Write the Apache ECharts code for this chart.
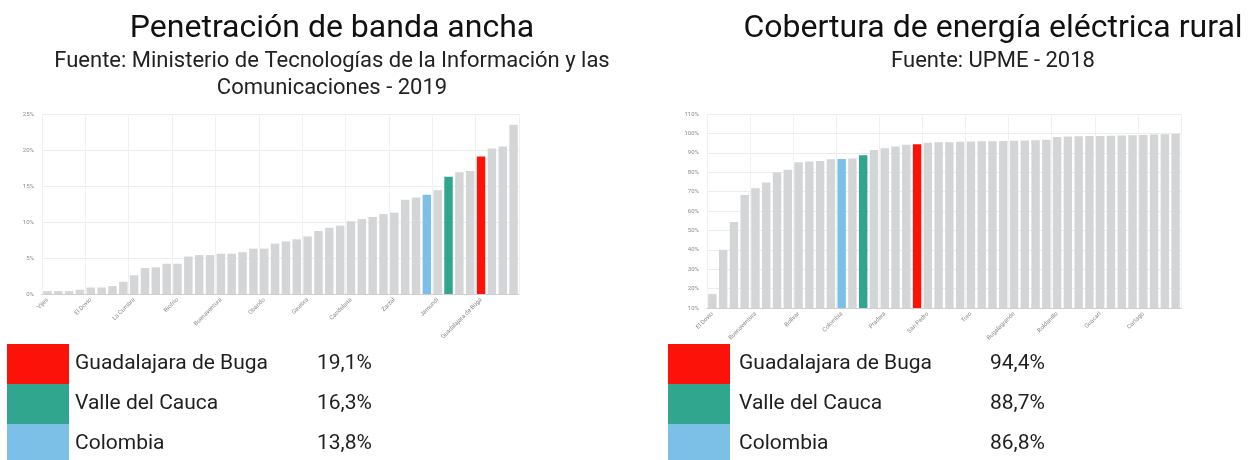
<!DOCTYPE html>
<html>
<head>
<meta charset="utf-8">
<script src="https://cdn.jsdelivr.net/npm/echarts@6/dist/echarts.min.js"></script>
<style>
  html, body { margin: 0; padding: 0; background: #fff; }
  #chart { width: 1257px; height: 460px; }
</style>
</head>
<body>
<div id="chart"></div>
<script>
// --- datos: penetración de banda ancha (MinTIC 2019) ---
const catsBanda = [
  "Vijes", "El Cairo", "Argelia", "Versalles", "El Dovio", "Bolívar", "El Águila", "Ulloa",
  "La Cumbre", "Alcalá", "Trujillo", "Restrepo", "Riofrío", "Calima", "Dagua", "San Pedro",
  "Buenaventura", "Yotoco", "Toro", "Ansermanuevo", "Obando", "La Victoria", "Bugalagrande", "Pradera",
  "Ginebra", "Andalucía", "Guacarí", "El Cerrito", "Candelaria", "Florida", "La Unión", "Roldanillo",
  "Zarzal", "Sevilla", "Caicedonia", "Colombia", "Jamundí", "Valle del Cauca", "Cartago", "Tuluá",
  "Guadalajara de Buga", "Yumbo", "Palmira", "Cali"
];
const valsBanda = [
  0.4, 0.4, 0.4, 0.6, 0.9, 0.9, 1.1, 1.7,
  2.6, 3.6, 3.7, 4.2, 4.2, 5.2, 5.4, 5.4,
  5.6, 5.6, 5.8, 6.3, 6.3, 7.0, 7.3, 7.6,
  8.0, 8.75, 9.2, 9.5, 10.1, 10.4, 10.7, 11.1,
  11.3, 13.1, 13.4, 13.8, 14.4, 16.3, 16.9, 17.1,
  19.1, 20.2, 20.5, 23.5
];

// --- datos: cobertura de energía eléctrica rural (UPME 2018) ---
const catsEnergia = [
  "El Dovio", "El Cairo", "Argelia", "Dagua", "Buenaventura", "Calima", "El Águila", "Versalles",
  "Bolívar", "Riofrío", "Jamundí", "Restrepo", "Colombia", "La Cumbre", "Valle del Cauca", "Vijes",
  "Pradera", "Florida", "Yotoco", "Guadalajara de Buga", "San Pedro", "Ulloa", "Trujillo", "Alcalá",
  "Toro", "Sevilla", "Caicedonia", "El Cerrito", "Bugalagrande", "Ansermanuevo", "Obando", "La Victoria",
  "Roldanillo", "Ginebra", "Andalucía", "La Unión", "Guacarí", "Zarzal", "Candelaria", "Tuluá",
  "Cartago", "Palmira", "Yumbo", "Cali"
];
const valsEnergia = [
  17.2, 40.0, 54.3, 68.3, 71.7, 74.7, 79.8, 81.2,
  85.1, 85.5, 85.8, 86.7, 86.8, 87.0, 88.7, 91.5,
  92.3, 93.2, 94.2, 94.4, 95.2, 95.4, 95.5, 95.7,
  95.8, 95.9, 96.0, 96.1, 96.2, 96.3, 96.5, 96.7,
  98.2, 98.4, 98.5, 98.6, 98.7, 98.8, 98.9, 99.0,
  99.2, 99.4, 99.6, 99.8
];

// entidades resaltadas
const destacados = ["Guadalajara de Buga", "Valle del Cauca", "Colombia"];
const coloresDestacados = ["#fc1208", "#2fa68d", "#7dc0e7"];
const grisBarra = "#d3d5d7";

const chart = echarts.init(document.getElementById("chart"));

function barData(cats, vals) {
  return vals.map(function (v, i) {
    const k = destacados.indexOf(cats[i]);
    return { value: v, itemStyle: { color: k >= 0 ? coloresDestacados[k] : grisBarra } };
  });
}

function valorDe(cats, vals, name) {
  return vals[cats.indexOf(name)].toFixed(1).replace(".", ",") + "%";
}

const axisLbl = { fontSize: 6, color: "#8a8a8a", fontFamily: "Roboto" };

// leyendas (cuadros de color + nombre + valor)
const graphics = [];
[[7, 75, 317, catsBanda, valsBanda], [668, 739, 990, catsEnergia, valsEnergia]].forEach(function (g) {
  destacados.forEach(function (name, k) {
    const y = 344 + k * 40;
    graphics.push({ type: "rect", left: g[0], top: y, shape: { width: 62, height: 40 }, style: { fill: coloresDestacados[k] } });
    graphics.push({ type: "text", left: g[1], top: y + 9, style: { text: name, fontSize: 21, fill: "#1f1f1f", fontFamily: "Roboto" } });
    graphics.push({ type: "text", left: g[2], top: y + 9, style: { text: valorDe(g[3], g[4], name), fontSize: 21, fill: "#1f1f1f", fontFamily: "Roboto" } });
  });
});

const tituloEstilo = { fontSize: 32, fontWeight: "normal", color: "#111", fontFamily: "Roboto" };
const subEstilo = { fontSize: 22, color: "#222", lineHeight: 27, fontFamily: "Roboto" };

chart.setOption({
  animation: false,
  title: [
    {
      text: "Penetración de banda ancha",
      subtext: "Fuente: Ministerio de Tecnologías de la Información y las\nComunicaciones - 2019",
      left: 327, top: 8, textAlign: "center", itemGap: 3,
      textStyle: tituloEstilo, subtextStyle: subEstilo
    },
    {
      text: "Cobertura de energía eléctrica rural",
      subtext: "Fuente: UPME - 2018",
      left: 988, top: 8, textAlign: "center", itemGap: 3,
      textStyle: tituloEstilo, subtextStyle: subEstilo
    }
  ],
  grid: [
    { left: 42, right: 738, top: 114, bottom: 166 },
    { left: 707, right: 76, top: 114, bottom: 152 }
  ],
  xAxis: [0, 1].map(function (i) {
    return {
      type: "category", gridIndex: i,
      data: i === 0 ? catsBanda : catsEnergia,
      axisLine: { lineStyle: { color: "#cfcfcf" } },
      axisTick: { show: false },
      axisLabel: Object.assign({ interval: 3, rotate: 45, margin: 5 }, axisLbl),
      splitLine: { show: true, interval: 3, lineStyle: { color: "#f1f1f1" } }
    };
  }),
  yAxis: [
    {
      type: "value", gridIndex: 0, min: 0, max: 25, interval: 5,
      axisLabel: Object.assign({ formatter: "{value}%", margin: 8 }, axisLbl),
      splitLine: { lineStyle: { color: "#ececec" } }
    },
    {
      type: "value", gridIndex: 1, min: 10, max: 110, interval: 10,
      axisLabel: Object.assign({ formatter: "{value}%", margin: 8 }, axisLbl),
      splitLine: { lineStyle: { color: "#ececec" } }
    }
  ],
  series: [
    { type: "bar", xAxisIndex: 0, yAxisIndex: 0, barCategoryGap: "22%", data: barData(catsBanda, valsBanda) },
    { type: "bar", xAxisIndex: 1, yAxisIndex: 1, barCategoryGap: "22%", data: barData(catsEnergia, valsEnergia) }
  ],
  graphic: graphics
});
</script>
</body>
</html>
